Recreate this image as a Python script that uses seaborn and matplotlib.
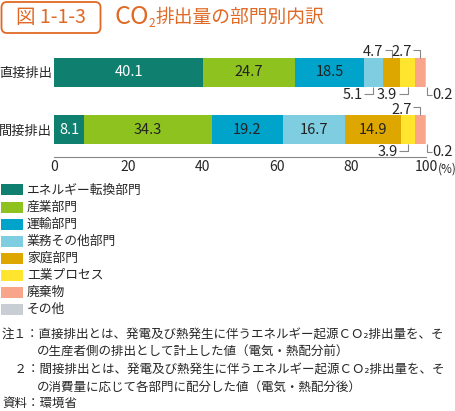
import pandas as pd
import matplotlib
matplotlib.use("Agg")
import matplotlib.pyplot as plt
from matplotlib.patches import Rectangle, FancyBboxPatch
import seaborn as sns

# データ
rows = ["直接排出", "間接排出"]
sectors = ["エネルギー転換部門", "産業部門", "運輸部門", "業務その他部門",
           "家庭部門", "工業プロセス", "廃棄物", "その他"]
direct_values = [40.1, 24.7, 18.5, 5.1, 4.7, 3.9, 2.7, 0.2]
indirect_values = [8.1, 34.3, 19.2, 16.7, 14.9, 3.9, 2.7, 0.2]
x_ticks = [0, 20, 40, 60, 80, 100]

colors = ["#0F8070", "#8DC21F", "#00A3CA", "#7ECDE0",
          "#DDA700", "#FFE52E", "#F8A58C", "#C9CED4"]
orange = "#E06A25"

# 小さい値のラベル位置 (行, 部門, 上/下)
small_labels = [
    (0, 3, "bottom"), (0, 4, "top"), (0, 5, "bottom"), (0, 6, "top"), (0, 7, "end"),
    (1, 5, "bottom"), (1, 6, "top"), (1, 7, "end"),
]

W, H = 455, 411
sns.set_theme(style="white")
plt.rcParams["font.family"] = ["Noto Sans CJK JP", "DejaVu Sans"]

fig = plt.figure(figsize=(W / 100, H / 100), dpi=100)
ax = fig.add_axes([54 / W, 1 - 157 / H, 372 / W, 113 / H])

# 積み上げ用のデータフレーム
records = []
for r, vals in zip(rows, [direct_values, indirect_values]):
    cum = 0
    for s, v in zip(sectors, vals):
        cum += v
        records.append({"row": r, "sector": s, "value": v, "end": cum, "start": cum - v})
df = pd.DataFrame(records)

bar_w = 29 / 57
# 累積値を後ろから重ねて描く
for s, c in reversed(list(zip(sectors, colors))):
    sns.barplot(data=df[df["sector"] == s], x="end", y="row", order=rows,
                color=c, width=bar_w, errorbar=None, orient="h",
                linewidth=0, saturation=1, ax=ax)

ax.set_xlim(0, 100)
ax.set_ylim(1 + 27.5 / 57, -0.5)
ax.set_xlabel("")
ax.set_ylabel("")
for sp in ["top", "right", "left"]:
    ax.spines[sp].set_visible(False)
ax.spines["bottom"].set_color("#888888")
ax.spines["bottom"].set_linewidth(0.8)
ax.set_xticks(x_ticks)
ax.set_xticklabels([str(t) for t in x_ticks], fontsize=10)
ax.tick_params(axis="x", direction="in", length=3, width=0.8, color="#888888", pad=2.5)
ax.tick_params(axis="y", length=0, pad=1.5, labelsize=9.5)
fig.text(437.5 / W, 1 - 169 / H, "(%)", fontsize=8.5, ha="left", va="center")

# 値ラベル
px_x = 100 / 372
px_y = 1 / 57
for i, r in enumerate(rows):
    sub = df[df["row"] == r].reset_index(drop=True)
    for j, rec in sub.iterrows():
        if rec["value"] >= 8:
            ax.text((rec["start"] + rec["end"]) / 2, i, f"{rec['value']:.1f}",
                    ha="center", va="center", fontsize=10.5,
                    color="white" if j == 0 else "#222222")

line_kw = dict(color="#888888", lw=0.8, solid_capstyle="butt")
for i, j, side in small_labels:
    rec = df[df["row"] == rows[i]].iloc[j]
    xc = (rec["start"] + rec["end"]) / 2
    label = f"{rec['value']:.1f}"
    if side == "top":
        y0 = i - bar_w / 2
        y1 = y0 - 8 * px_y
        ax.plot([xc, xc, xc - 7 * px_x], [y0, y1, y1], **line_kw)
        ax.text(xc - 8.5 * px_x, y1 + 2.5 * px_y, label, ha="right", va="center", fontsize=10.5)
    elif side == "bottom":
        y0 = i + bar_w / 2
        y1 = y0 + 7 * px_y
        ax.plot([xc, xc, xc - 9 * px_x], [y0, y1, y1], **line_kw)
        ax.text(xc - 10.5 * px_x, y1 + 1 * px_y, label, ha="right", va="center", fontsize=10.5)
    else:
        xe = 100 + 0.5 * px_x
        y0 = i + bar_w / 2
        y1 = y0 + 8 * px_y
        ax.plot([xe, xe, xe + 5 * px_x], [y0, y1, y1], **line_kw)
        ax.text(xe + 6 * px_x, y1, label, ha="left", va="center", fontsize=10.5)
for ln in ax.lines:
    ln.set_clip_on(False)
for t in ax.texts:
    t.set_clip_on(False)

# タイトル
box = FancyBboxPatch((1.5 / W, 1 - 33 / H), 99 / W, 31 / H,
                     boxstyle="round,pad=0,rounding_size=0.012",
                     mutation_aspect=W / H, transform=fig.transFigure,
                     fc="white", ec=orange, lw=1.3)
fig.patches.append(box)
fig.text(51 / W, 1 - 17.5 / H, "図 1-1-3", fontsize=14, color=orange, ha="center", va="center")
fig.text(115 / W, 1 - 17.5 / H, "CO", fontsize=18, color=orange, ha="left", va="center")
fig.text(148 / W, 1 - 23.5 / H, "2", fontsize=8.5, color=orange, ha="left", va="center")
fig.text(155 / W, 1 - 17.5 / H, "排出量の部門別内訳", fontsize=13.5, color=orange,
         ha="left", va="center")

# 凡例
for k, (s, c) in enumerate(zip(sectors, colors)):
    yc = 190 + k * 17.1
    fig.patches.append(Rectangle((1 / W, 1 - (yc + 5.5) / H), 22 / W, 11 / H,
                                 transform=fig.transFigure, fc=c, ec="none"))
    fig.text(27 / W, 1 - yc / H, s, fontsize=9.2, ha="left", va="center")

# 注記
notes = [
    (2, 335, "注１：直接排出とは、発電及び熱発生に伴うエネルギー起源ＣＯ₂排出量を、そ"),
    (37, 352.5, "の生産者側の排出として計上した値（電気・熱配分前）"),
    (2, 370, "　２：間接排出とは、発電及び熱発生に伴うエネルギー起源ＣＯ₂排出量を、そ"),
    (37, 387.5, "の消費量に応じて各部門に配分した値（電気・熱配分後）"),
    (2, 403.5, "資料：環境省"),
]
for x, y, t in notes:
    fig.text(x / W, 1 - y / H, t, fontsize=9, ha="left", va="center")

fig.savefig("out.png", dpi=100)
